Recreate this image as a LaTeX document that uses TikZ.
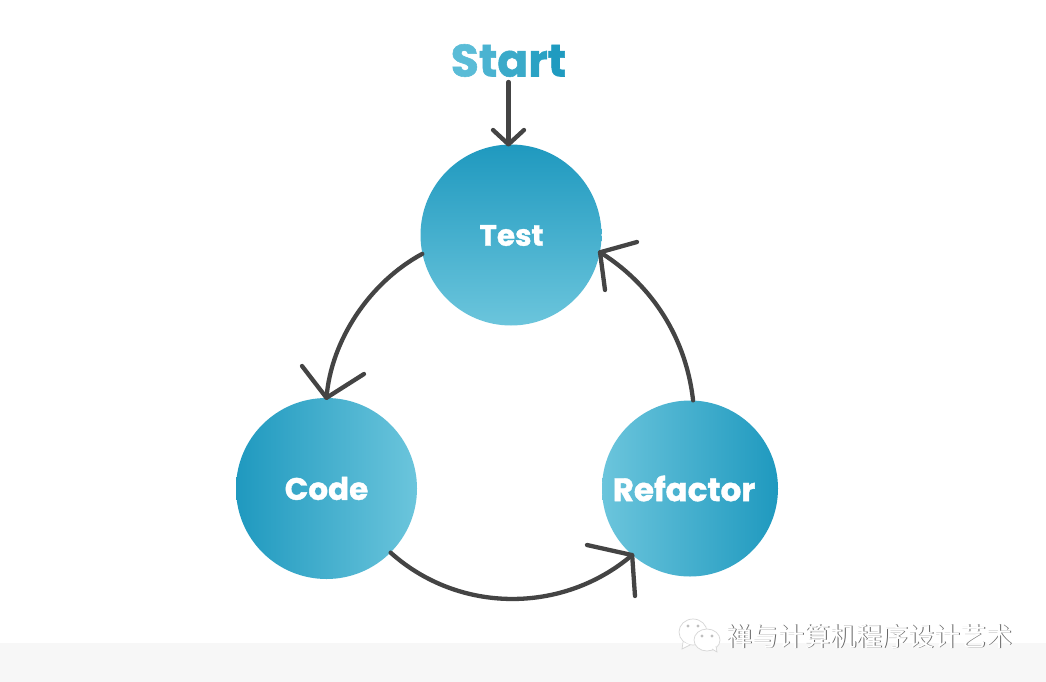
\documentclass[tikz,border=0pt]{standalone}
\usepackage{fontspec}
\setmainfont{Poppins}[BoldFont={Poppins Bold}]
\newfontfamily\cjk{Noto Sans CJK SC}
\newfontfamily\heavy{Poppins Bold}[FakeBold=1.2]
\usetikzlibrary{calc}
\definecolor{tddark}{HTML}{1F99BF}
\definecolor{tdlight}{HTML}{6BC5DC}
\definecolor{lineink}{HTML}{444444}
\definecolor{stripbg}{HTML}{F7F7F7}
\definecolor{sa}{HTML}{5ABCD7}
\definecolor{sb}{HTML}{4AB3D1}
\definecolor{sc}{HTML}{3AAAC9}
\definecolor{sd}{HTML}{2AA2C4}
\definecolor{se}{HTML}{1F9BC0}
\tikzset{
  x=1pt,y=-1pt,
  stage/.style={circle,inner sep=0pt,text=white,font=\heavy\fontsize{31}{31}\selectfont},
  flow/.style={draw=lineink,line width=4.3pt,line cap=round,line join=round},
  markbub/.style={draw=black!16,fill=white,line width=0.7pt},
  markdot/.style={fill=black!25,draw=none},
}
\begin{document}
\begin{tikzpicture}
\useasboundingbox (0,0) rectangle (1046,682);
\fill[white] (0,0) rectangle (1046,682);
\fill[stripbg] (0,643) rectangle (1046,682);

% circles
\node[stage,minimum size=181pt,top color=tddark,bottom color=tdlight] (test) at (511,235) {};
\node[inner sep=0pt,text=white,font=\heavy\fontsize{29.5}{30}\selectfont] (testlabel) at (511.5,235.5) {Test};
\node[stage,minimum size=181pt,left color=tddark,right color=tdlight] (code) at (326.5,488.5) {Code};
\node[stage,minimum size=176pt,left color=tdlight,right color=tddark] (refactor) at (690,488.5) {};
\node[inner sep=0pt,text=white,font=\heavy\fontsize{32.5}{33}\selectfont] (reflabel) at (684,488.5) {Refactor};

% start
\node[inner sep=0pt,font=\heavy\fontsize{45.5}{46}\selectfont] (start) at (508.5,60.5)
  {\textcolor{sa}{S}\textcolor{sb}{t}\textcolor{sc}{a}\textcolor{sd}{r}\textcolor{se}{t}};

% connectors
\coordinate (sa) at (508.5,82);
\draw[flow] (sa) -- (test.north -| sa);
\coordinate (h1) at (493,130); \coordinate (h2) at (524,130);
\draw[flow] (h1) -- (test.north -| sa) -- (h2);

\draw[flow] (test.192.5) .. controls (370,282) and (331,340) .. (code.90);
\coordinate (h3) at (302,366); \coordinate (h4) at (364,374);
\draw[flow] (h3) -- (code.90) -- (h4);

\draw[flow] (code.-45) .. controls (459,614) and (563,614) .. (refactor.229);
\coordinate (h5) at (587,545); \coordinate (h6) at (635,596);
\draw[flow] (h5) -- (refactor.229) -- (h6);

\draw[flow] (refactor.88) .. controls (685,330) and (645,280) .. (test.-11.5);
\coordinate (h7) at (637,242); \coordinate (h8) at (605,290);
\draw[flow] (h7) -- (test.-11.5) -- (h8);

% watermark
\draw[markbub] (693,632) ellipse (14 and 13);
\draw[markbub] (683,642) -- (682,649) -- (690,645);
\draw[markbub] (707,640) ellipse (13 and 11);
\draw[markbub] (712,649) -- (717,652) -- (716,646);
\fill[markdot] (688,626) circle (1.6); \fill[markdot] (698,626) circle (1.6);
\fill[markdot] (702,636) circle (1.6); \fill[markdot] (712,636) circle (1.6);
\node[inner sep=0pt,font=\cjk\fontsize{26}{26}\selectfont,text=black!60] (wmshadow) at (870.4,637) {禅与计算机程序设计艺术};
\node[inner sep=0pt,font=\cjk\fontsize{26}{26}\selectfont,text=white] (wm) at (869.6,636.2) {禅与计算机程序设计艺术};
\end{tikzpicture}
\end{document}
